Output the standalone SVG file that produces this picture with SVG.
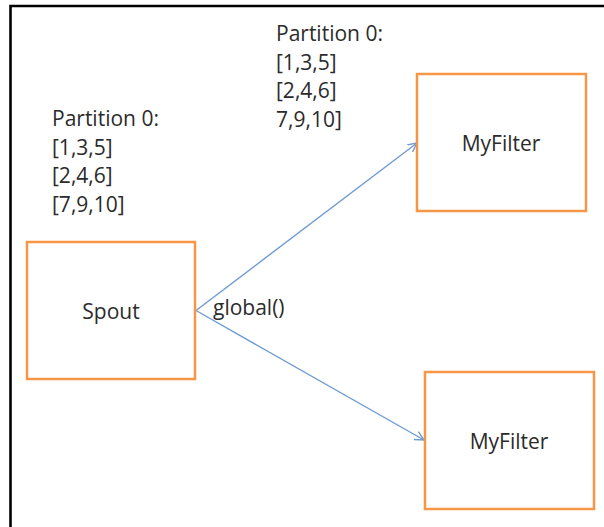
<svg xmlns="http://www.w3.org/2000/svg" width="604" height="527" viewBox="0 0 604 527">
<defs>
<style>
.box{fill:#ffffff;stroke:#F79646;stroke-width:2.5}
.lbl{font-family:"Open Sans","Liberation Sans",sans-serif;font-size:21px;fill:#2b2b2b}
.edge{fill:none;stroke:#6f9bd3;stroke-width:1.4}
</style>
<marker id="arr" markerUnits="userSpaceOnUse" markerWidth="12" markerHeight="12" refX="9" refY="5" orient="auto" viewBox="0 0 12 10">
<path d="M0,0.5 L9,5 L0,9.5" fill="none" stroke="#6f9bd3" stroke-width="1.4"/>
</marker>
</defs>
<rect width="604" height="527" fill="#ffffff"/>
<path d="M10.5,527 V6 H604" fill="none" stroke="#000000" stroke-width="2.6"/>
<g id="text-left">
<text class="lbl" x="52" y="126">Partition 0:</text>
<text class="lbl" x="52" y="154.5">[1,3,5]</text>
<text class="lbl" x="52" y="183">[2,4,6]</text>
<text class="lbl" x="52" y="211.5">[7,9,10]</text>
</g>
<g id="text-top">
<text class="lbl" x="276" y="41">Partition 0:</text>
<text class="lbl" x="276" y="69.5">[1,3,5]</text>
<text class="lbl" x="276" y="98">[2,4,6]</text>
<text class="lbl" x="276" y="126.5">7,9,10]</text>
</g>
<g id="connectors">
<path class="edge" d="M196,310.5 L417,143" marker-end="url(#arr)"/>
<path class="edge" d="M196,310.5 L424,440" marker-end="url(#arr)"/>
<text class="lbl" x="213" y="315">global()</text>
</g>
<g id="spout">
<rect class="box" x="27" y="242" width="168" height="137"/>
<text class="lbl" x="111" y="319" text-anchor="middle">Spout</text>
</g>
<g id="myfilter-top">
<rect class="box" x="417" y="74" width="169" height="137"/>
<text class="lbl" x="501" y="151" text-anchor="middle">MyFilter</text>
</g>
<g id="myfilter-bottom">
<rect class="box" x="425" y="372" width="169" height="137"/>
<text class="lbl" x="509" y="449" text-anchor="middle">MyFilter</text>
</g>
</svg>
